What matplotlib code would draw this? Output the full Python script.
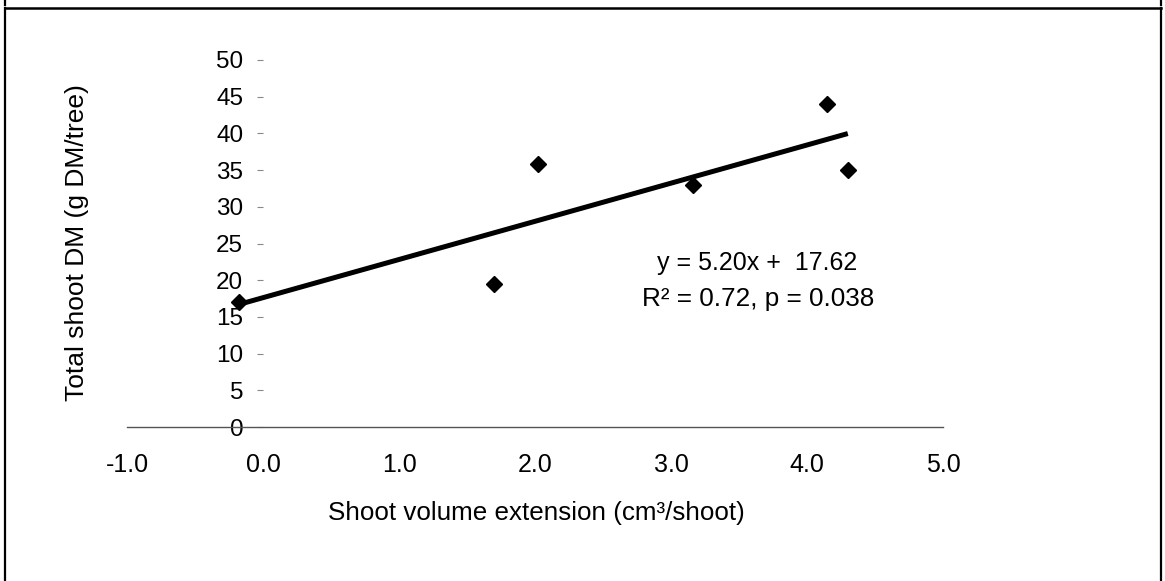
import matplotlib
matplotlib.use('Agg')
import matplotlib.pyplot as plt
from matplotlib.lines import Line2D
import numpy as np

# ---- data ----
x_vals = [-0.18, 1.70, 2.02, 3.16, 4.15, 4.30]
y_vals = [17.0, 19.5, 35.8, 33.0, 44.0, 35.0]
slope = 5.20
intercept = 17.62
x_ticks = [-1, 0, 1, 2, 3, 4, 5]
x_tick_labels = ['-1.0', '0.0', '1.0', '2.0', '3.0', '4.0', '5.0']
y_ticks = [0, 5, 10, 15, 20, 25, 30, 35, 40, 45, 50]
eq_text = 'y = 5.20x +  17.62'
stat_text = 'R\u00b2 = 0.72, p = 0.038'
x_label = 'Shoot volume extension (cm\u00b3/shoot)'
y_label = 'Total shoot DM (g DM/tree)'

plt.rcParams['font.family'] = ['Liberation Sans', 'DejaVu Sans']

W, H = 1165, 581
fig = plt.figure(figsize=(W / 100, H / 100), dpi=100)
ax = fig.add_axes([127 / W, 154 / H, 816 / W, 367 / H])
ax.set_xlim(-1, 5)
ax.set_ylim(0, 50)

for s in ['top', 'right']:
    ax.spines[s].set_visible(False)
ax.spines['left'].set_position(('data', 0))
ax.spines['left'].set_color('none')
ax.spines['bottom'].set_color('#555555')
ax.spines['bottom'].set_linewidth(1.0)

ax.set_xticks(x_ticks)
ax.set_xticklabels(x_tick_labels)
ax.set_yticks(y_ticks)
ax.set_yticklabels([str(v) for v in y_ticks])
ax.tick_params(axis='x', length=0, pad=19, labelsize=18)
ax.tick_params(axis='y', length=4.3, width=0.8, color='#888888', pad=10, labelsize=17.5)

# trend line
xs = np.array([min(x_vals), max(x_vals)])
ax.plot(xs, slope * xs + intercept, color='black', lw=3.6, solid_capstyle='butt', zorder=2, clip_on=False)
# points
ax.plot(x_vals, y_vals, 'D', color='black', markersize=8, zorder=3, clip_on=False)

fig.text(0.650, 1 - 263 / H, eq_text, ha='center', va='center', fontsize=18)
fig.text(0.651, 1 - 299 / H, stat_text, ha='center', va='center', fontsize=18.8)
fig.text(536 / W, 1 - 513 / H, x_label, ha='center', va='center', fontsize=18.7)
fig.text(77 / W, 1 - 243 / H, y_label, ha='center', va='center', rotation=90, fontsize=19)

# border frame
def seg(x0, y0, x1, y1, lw=1.6):
    fig.add_artist(Line2D([x0 / W, x1 / W], [1 - y0 / H, 1 - y1 / H], color='black', lw=lw,
                          transform=fig.transFigure))

seg(5, 8, 1161, 8, lw=1.8)
seg(5, 8, 5, H + 5)
seg(1161, 8, 1161, H + 5)
seg(5, -2, 5, 5)
seg(1161, -2, 1161, 5)

fig.savefig('out.png', dpi=100)
